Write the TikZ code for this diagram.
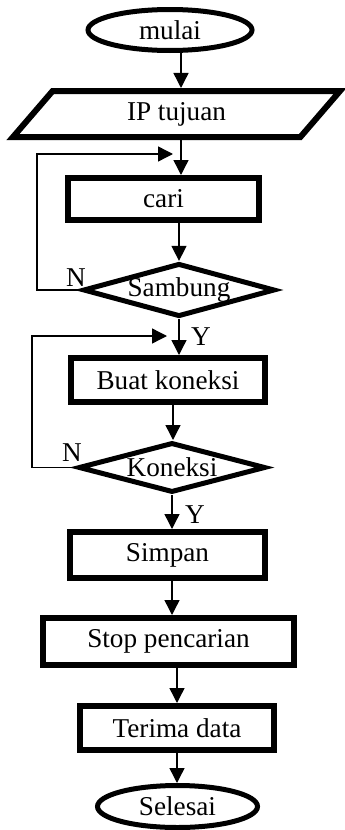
\documentclass[tikz,border=0pt]{standalone}
\usepackage{fontspec}
\setmainfont{Liberation Serif}
\usetikzlibrary{shapes.geometric,arrows.meta}

\begin{document}
\begin{tikzpicture}[x=0.5pt,y=-0.5pt,
		every node/.style={font=\fontsize{13.6}{16}\selectfont,inner sep=0pt},
		term/.style={draw,ellipse,line width=2.5pt},
		proc/.style={draw,rectangle,line width=3pt},
		cond/.style={draw,diamond,line width=2.5pt,shape aspect=3.6},
		arr/.style={-{Triangle[length=7.5pt,width=7.5pt]},line width=0.7pt}]
			\useasboundingbox (0,0) rectangle (344,830);
			\node[term,minimum width=82pt,minimum height=20.5pt] (mulai) at (170,30) {mulai};
			\node[draw,trapezium,line width=3pt,trapezium left angle=31,trapezium right angle=149,trapezium stretches body,minimum width=163.5pt,minimum height=23pt] (ip) at (176.5,114) {IP tujuan};
			\node[proc,minimum width=95.5pt,minimum height=21pt] (cari) at (163.5,199) {cari};
			\node[cond,minimum width=91.5pt,minimum height=25.5pt] (sambung) at (179,290) {Sambung};
			\node[proc,minimum width=97pt,minimum height=22pt] (buat) at (168,380) {Buat koneksi};
			\node[cond,minimum width=93.5pt,minimum height=25pt] (koneksi) at (172,467.5) {Koneksi};
			\node[proc,minimum width=97.5pt,minimum height=23pt] (simpan) at (167.5,555) {Simpan};
			\node[proc,minimum width=125.5pt,minimum height=23.5pt] (stop) at (168.5,641.5) {Stop pencarian};
			\node[proc,minimum width=97pt,minimum height=22pt] (terima) at (177,728) {Terima data};
			\node[term,minimum width=80pt,minimum height=21pt] (selesai) at (177.5,806.5) {Selesai};
			\node (n1) at (76,278) {N};
			\node (y1) at (201,337) {Y};
			\node (n2) at (72,453) {N};
			\node (y2) at (195,515) {Y};
			\coordinate (back1) at (173,154);
			\coordinate (back2) at (167,336);
			\draw[arr] (mulai.south -| 181,0) -- (ip.north -| 181,0);
			\draw[arr] (ip.south -| 181,0) -- (cari.north -| 181,0);
			\draw[arr] (cari.south -| 179,0) -- (sambung.north -| 179,0);
			\draw[arr] (sambung.south -| 179,0) -- (buat.north -| 179,0);
			\draw[arr] (buat.south -| 173,0) -- (koneksi.north -| 173,0);
			\draw[arr] (koneksi.south -| 172,0) -- (simpan.north -| 172,0);
			\draw[arr] (simpan.south -| 172,0) -- (stop.north -| 172,0);
			\draw[arr] (stop.south -| 177,0) -- (terima.north -| 177,0);
			\draw[arr] (terima.south -| 177,0) -- (selesai.north -| 177,0);
			\draw[arr] (sambung.west) -- (37,0 |- sambung.west) |- (back1);
			\draw[arr] (koneksi.west) -- (32,0 |- koneksi.west) |- (back2);
			\end{tikzpicture}
\end{document}
